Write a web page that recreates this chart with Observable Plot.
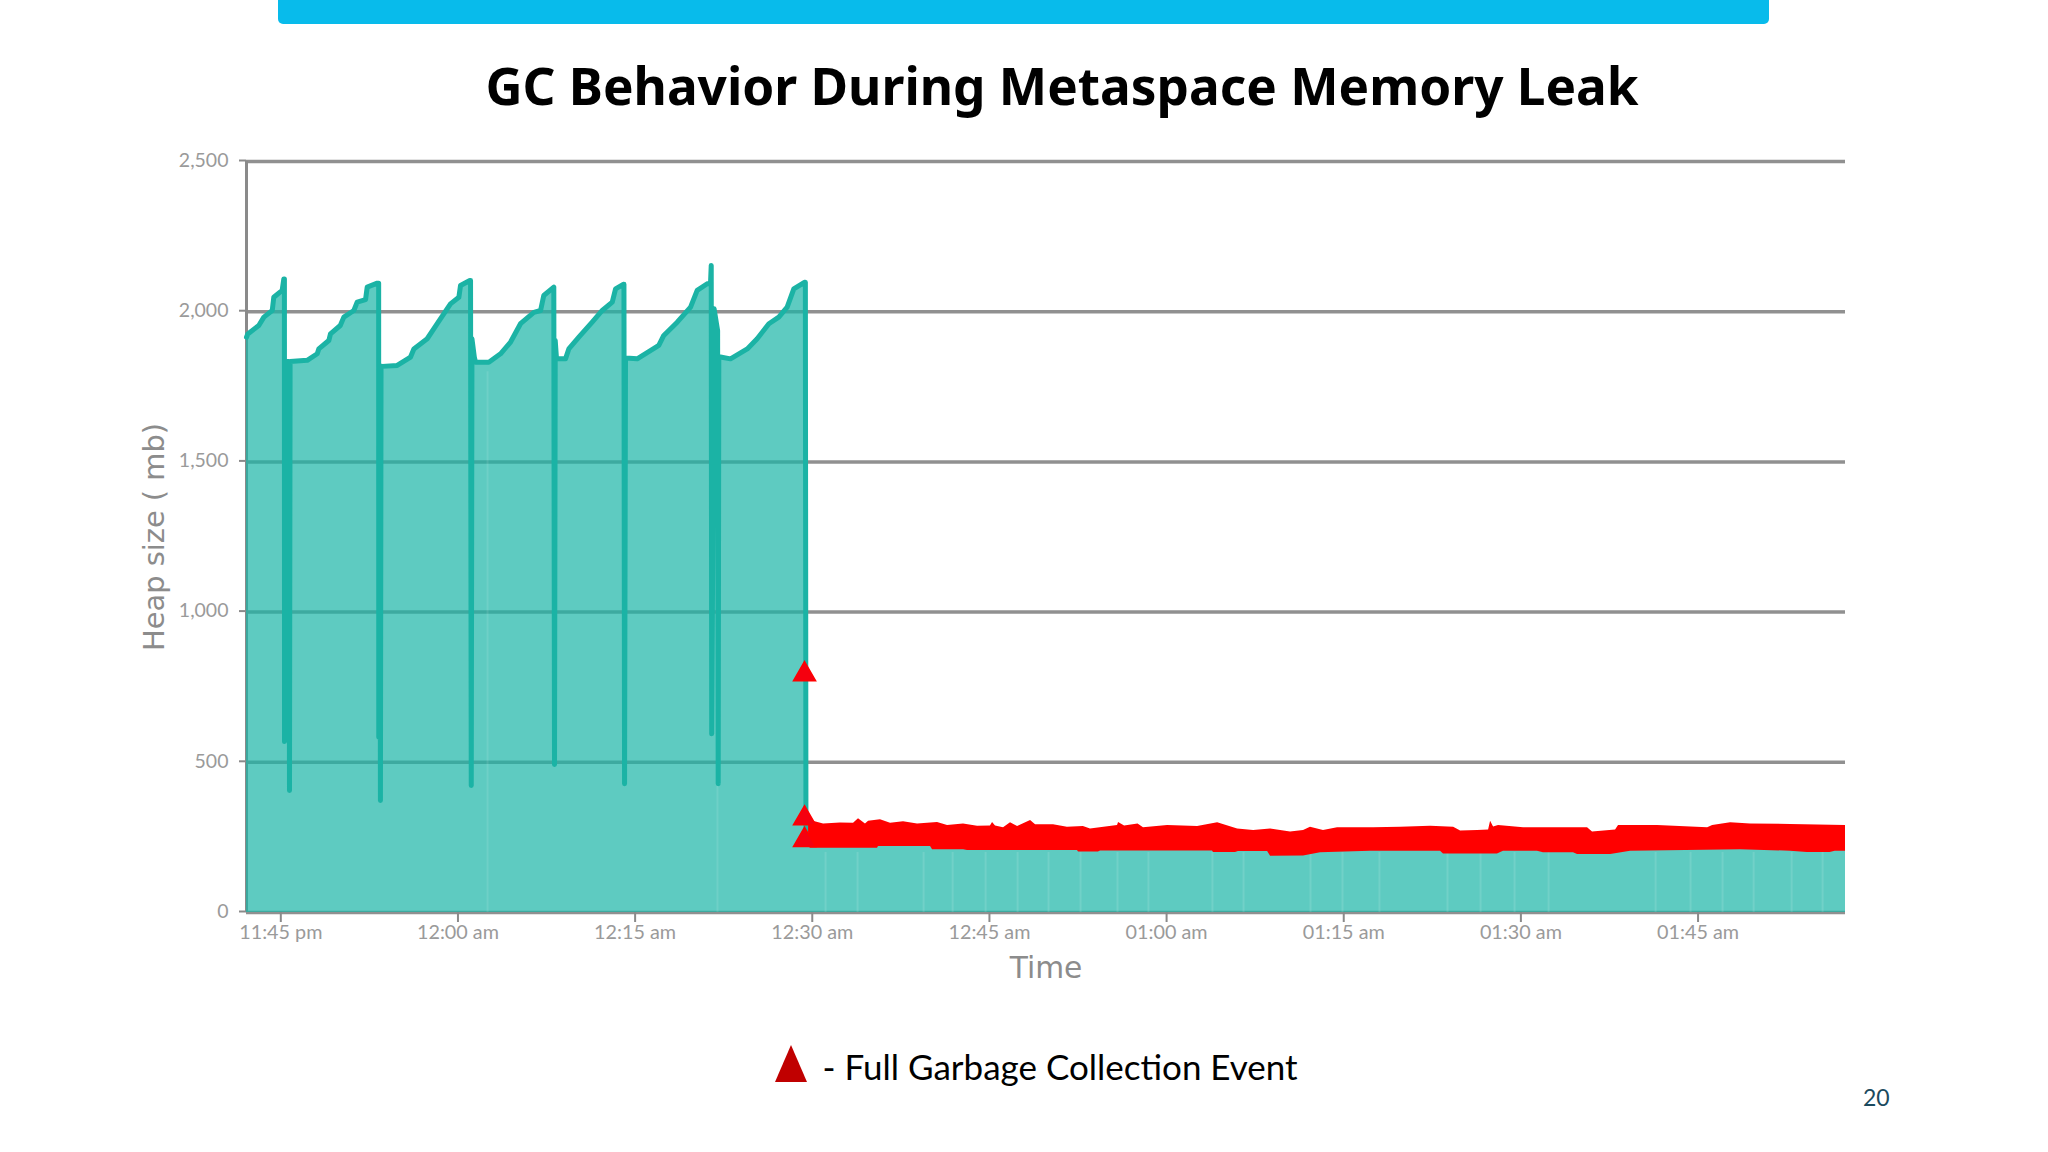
<!DOCTYPE html>
<html>
<head>
<meta charset="utf-8">
<script src="https://cdn.jsdelivr.net/npm/d3@7"></script>
<script src="https://cdn.jsdelivr.net/npm/@observablehq/plot@0.6"></script>
<style>
  html, body { margin: 0; padding: 0; background: #fff; }
  #page { position: relative; width: 2048px; height: 1152px; overflow: hidden; }
  #bar { position: absolute; left: 278px; top: -6px; width: 1491px; height: 30px; background: #08BBEB; border-radius: 5px; }
  #title { position: absolute; left: 0; top: 49px; width: 2124px; text-align: center; font: 700 51.3px "Noto Sans", sans-serif; color: #000; line-height: 72px; white-space: nowrap; }
  #chart { position: absolute; left: 0; top: 130px; }
  #legend { position: absolute; left: 775px; top: 1045px; height: 40px; white-space: nowrap; }
  #legend svg { position: absolute; left: 0; top: 0; }
  #legend span { position: absolute; left: 47.5px; top: -3.5px; font: 400 35px Lato, sans-serif; color: #000; line-height: 48px; }
  #page-no { position: absolute; left: 1863px; top: 1082px; font: 400 23px Lato, sans-serif; color: #1B4A5E; line-height: 30px; }
</style>
</head>
<body>
<div id="page">
  <div id="bar"></div>
  <div id="title">GC Behavior During Metaspace Memory Leak</div>
  <div id="chart"></div>
  <div id="legend">
    <svg width="34" height="40"><polygon points="16,0 32,37 0,37" fill="#C00000"></polygon></svg>
    <span>- Full Garbage Collection Event</span>
  </div>
  <div id="page-no">20</div>
</div>
<script>
// minutes since 11:45 pm
const tickMinutes = [0, 15, 30, 45, 60, 75, 90, 105, 120];
const tickLabels = ["11:45 pm", "12:00 am", "12:15 am", "12:30 am", "12:45 am", "01:00 am", "01:15 am", "01:30 am", "01:45 am"];
const heapTicks = [0, 500, 1000, 1500, 2000, 2500];

const heapTime = [-2.99,-2.88,-1.95,-1.52,-0.81,-0.68,0.03,0.17,0.22,0.23,0.30,0.60,0.65,0.70,2.15,3.00,3.13,3.98,4.12,4.95,5.25,6.10,6.38,7.09,7.23,8.08,8.20,8.21,8.30,8.35,8.40,8.50,9.77,10.90,11.18,12.31,13.16,14.28,14.99,15.13,15.92,15.98,16.04,16.10,16.30,16.40,17.53,18.52,19.37,20.21,21.34,21.91,22.18,23.03,23.09,23.15,23.26,24.02,24.30,25.15,26.28,27.13,27.98,28.26,28.91,28.97,29.02,29.10,30.09,31.92,32.34,33.48,34.61,35.17,36.02,36.30,36.36,36.40,36.60,36.90,36.95,37.00,37.14,37.99,39.41,40.25,41.24,42.08,42.79,43.35,44.25,44.33,44.38,45.00,132.40];
const heapValue = [1915,1926,1954,1982,2004,2048,2071,2109,2109,569,1834,1834,406,1834,1838,1860,1876,1904,1926,1954,1982,2004,2032,2040,2082,2095,2095,583,1818,373,1818,1818,1821,1849,1876,1910,1960,2026,2048,2087,2104,2104,423,1910,1849,1832,1832,1860,1899,1960,1998,2004,2054,2082,493,1904,1843,1843,1876,1915,1965,2004,2032,2076,2091,2091,429,1846,1843,1888,1921,1965,2015,2071,2093,2095,2154,595,2010,1937,429,1849,1849,1843,1876,1910,1960,1982,2015,2076,2098,2098,250,250,250];

const gcTopTime = [44.6,44.76,45.87,47.3,48.41,48.83,49.42,49.68,50.69,51.54,52.64,53.83,55.52,56.37,57.72,58.91,60.0,60.18,60.43,61.11,61.7,62.3,63.4,63.82,65.34,66.52,67.87,68.47,70.76,70.85,71.36,72.5,72.96,75.0,77.54,79.24,80.93,82.28,83.72,85.41,86.51,87.1,88.2,89.39,92.44,94.73,97.27,99.22,99.81,101.25,102.18,102.35,102.6,103.02,105.14,107.68,110.56,110.98,112.93,113.18,116.49,120.73,121.15,122.67,124.36,127.75,132.4];
const gcTopValue = [300,306,295,298,297,312,295,304,309,297,302,295,300,290,295,287,288,300,288,282,299,286,306,292,292,284,286,278,290,300,288,295,282,290,286,299,278,273,278,268,273,284,273,282,282,284,287,284,271,273,275,304,285,290,282,282,282,268,275,290,290,282,290,299,295,293,290];

const gcLowTime = [44.6,44.76,50.44,50.52,54.93,55.1,57.72,58.06,67.37,67.46,69.15,69.32,78.8,78.89,80.75,81.0,83.47,83.72,86.51,87.95,92.18,98.11,98.36,102.93,103.44,106.32,106.83,109.37,109.71,112.52,114.2,123.5,127.75,129.16,131.1,131.53,132.4];
const gcLowValue = [220,214,214,220,220,209,209,206,206,201,201,205,205,200,200,203,203,187,188,199,204,204,195,195,204,204,199,199,193,193,204,209,204,200,200,204,204];

const fullGcTime = [44.26, 44.26, 44.26];
const fullGcValue = [793, 313, 241];

const tallStreaks = [17.42, 36.89];
const lowStreaks = [46.04,48.75,54.34,56.80,59.59,62.30,64.92,67.63,70.76,73.38,78.80,81.43,87.10,89.81,92.94,98.70,101.50,104.38,107.26,116.32,119.28,121.99,124.62,127.84,130.46];

const zip = (xs, ys) => xs.map((x, i) => ({x, y: ys[i]}));
const heap = zip(heapTime, heapValue);
const gcTop = zip(gcTopTime, gcTopValue);
const gcLow = zip(gcLowTime, gcLowValue);
const fullGc = zip(fullGcTime, fullGcValue);

const gray = "#8a8a8a";
const labelGray = "#9a9a9a";
const domainX = [-2.99, 132.4];

const plot = Plot.plot({
  width: 2048,
  height: 890,
  marginLeft: 246,
  marginRight: 203,
  marginTop: 31,
  marginBottom: 108,
  style: {background: "transparent", fontFamily: "Lato, sans-serif", overflow: "visible"},
  x: {type: "linear", domain: domainX},
  y: {type: "linear", domain: [0, 2500]},
  marks: [
    Plot.ruleY(heapTicks, {stroke: gray, strokeWidth: 3.5, strokeOpacity: 0.95}),
    Plot.ruleX([domainX[0]], {stroke: gray, strokeWidth: 3}),
    Plot.axisY({ticks: heapTicks, tickFormat: d3.format(","), tickSize: 7, tickPadding: 11, dy: -1, fontSize: 19.5, color: labelGray, stroke: gray, strokeWidth: 2, label: null}),
    Plot.axisX({ticks: tickMinutes, tickFormat: d => tickLabels[tickMinutes.indexOf(d)], tickSize: 10, tickPadding: 2, dx: -1, fontSize: 19.8, color: labelGray, stroke: gray, strokeWidth: 2, label: null}),
    Plot.areaY(heap, {x: "x", y: "y", fill: "#19B5A6", fillOpacity: 0.7}),
    Plot.ruleX(tallStreaks, {y1: 0, y2: 1800, stroke: "#fff", strokeOpacity: 0.1, strokeWidth: 2}),
    Plot.ruleX(lowStreaks, {y1: 0, y2: 200, stroke: "#fff", strokeOpacity: 0.12, strokeWidth: 2}),
    Plot.lineY(heap.slice(0, -1), {x: "x", y: "y", stroke: "#1BB3A5", strokeWidth: 5, strokeLinejoin: "round"}),
    Plot.areaY(gcTop, {x: "x", y1: 235, y2: "y", fill: "#FF0000"}),
    Plot.areaY(gcLow, {x: "x", y1: "y", y2: 245, fill: "#FF0000"}),
    Plot.dot(fullGc, {x: "x", y: "y", symbol: "triangle", r: 8.2, fill: "#F5000F", stroke: "#FF0000"}),
    Plot.text(["Time"], {frameAnchor: "bottom", dy: 65, fontSize: 29.7, fill: "#8c8c8c", fontFamily: "'DejaVu Sans', sans-serif"}),
    Plot.text(["Heap size ( mb)"], {frameAnchor: "left", textAnchor: "middle", rotate: -90, dx: -92, fontSize: 28.9, fill: "#8c8c8c", fontFamily: "'DejaVu Sans', sans-serif"})
  ]
});
document.getElementById("chart").appendChild(plot);
</script>
</body>
</html>
